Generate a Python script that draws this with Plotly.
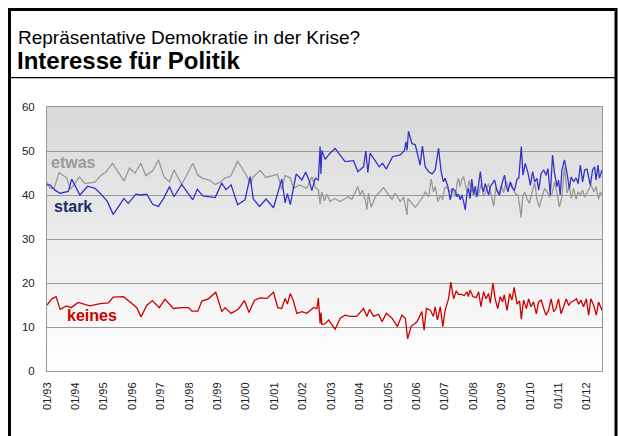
import plotly.graph_objects as go
import pandas as pd

# ---------------- data (decimal year, percent) ----------------
stark_t = [1993.00, 1993.11, 1993.28, 1993.46, 1993.75, 1993.87, 1994.16, 1994.43, 1994.69, 1994.87,
           1995.12, 1995.33, 1995.71, 1995.86, 1996.13, 1996.30, 1996.51, 1996.72, 1996.92, 1997.12,
           1997.31, 1997.47, 1997.74, 1997.92, 1998.13, 1998.29, 1998.48, 1998.92, 1999.15, 1999.30,
           1999.48, 1999.71, 1999.97, 2000.15, 2000.26, 2000.48, 2000.71, 2000.97, 2001.26, 2001.38,
           2001.46, 2001.56, 2001.77, 2001.97, 2002.10, 2002.22, 2002.32, 2002.44, 2002.55, 2002.61,
           2002.64, 2002.67, 2002.79, 2002.96, 2003.14, 2003.49, 2003.79, 2003.94, 2004.14, 2004.22,
           2004.29, 2004.37, 2004.55, 2004.69, 2004.81, 2004.94, 2005.16, 2005.43, 2005.58, 2005.63,
           2005.67, 2005.72, 2005.84, 2005.96, 2006.13, 2006.21, 2006.31, 2006.43, 2006.55, 2006.66,
           2006.78, 2006.87, 2006.95, 2007.01, 2007.11, 2007.19, 2007.27, 2007.37, 2007.43, 2007.48,
           2007.54, 2007.60, 2007.66, 2007.72, 2007.78, 2007.83, 2007.89, 2007.95, 2008.01, 2008.07,
           2008.13, 2008.19, 2008.25, 2008.31, 2008.36, 2008.42, 2008.48, 2008.54, 2008.60, 2008.66,
           2008.75, 2008.83, 2008.92, 2009.01, 2009.10, 2009.15, 2009.22, 2009.30, 2009.38, 2009.45,
           2009.54, 2009.60, 2009.65, 2009.69, 2009.75, 2009.83, 2009.93, 2010.01, 2010.09, 2010.16,
           2010.24, 2010.30, 2010.39, 2010.48, 2010.56, 2010.63, 2010.71, 2010.79, 2010.86, 2010.95,
           2011.00, 2011.06, 2011.12, 2011.21, 2011.30, 2011.38, 2011.45, 2011.53, 2011.62, 2011.69,
           2011.77, 2011.85, 2011.92, 2012.00, 2012.06, 2012.12, 2012.20, 2012.27, 2012.32, 2012.39,
           2012.44, 2012.53]
stark_v = [42.3, 42.3, 41.1, 40.4, 40.8, 43.6, 40.0, 42.0, 41.5, 40.4,
           38.6, 35.6, 39.2, 38.1, 40.2, 40.0, 40.2, 37.9, 37.4, 39.4,
           41.9, 39.6, 42.4, 40.8, 38.9, 41.3, 39.8, 39.4, 42.7, 41.2,
           42.3, 37.8, 38.9, 44.2, 39.1, 37.4, 39.1, 37.1, 43.6, 38.2,
           40.3, 37.8, 44.8, 43.4, 45.2, 43.4, 41.0, 43.8, 43.4, 51.0,
           44.8, 50.1, 48.1, 49.5, 50.6, 47.6, 47.8, 45.3, 46.4, 50.0,
           45.1, 49.5, 47.6, 46.4, 47.2, 45.9, 48.7, 49.1, 50.1, 52.1,
           50.2, 54.5, 51.7, 51.4, 46.8, 51.1, 46.4, 45.3, 44.8, 45.7,
           50.6, 45.3, 43.0, 43.8, 41.9, 38.9, 41.5, 40.9, 39.6, 40.2,
           38.9, 40.0, 38.5, 36.6, 40.4, 41.5, 39.2, 43.6, 40.0, 42.0,
           39.6, 42.6, 45.3, 41.9, 40.7, 42.6, 41.1, 40.0, 41.9, 42.6,
           43.4, 41.1, 40.0, 42.6, 44.5, 42.2, 40.7, 43.0, 41.5, 41.1,
           43.6, 43.8, 49.1, 51.0, 44.5, 47.2, 44.9, 42.2, 45.3, 43.0,
           43.8, 41.1, 44.9, 45.7, 44.5, 46.0, 40.0, 49.1, 44.9, 41.9,
           43.4, 40.0, 45.7, 48.0, 44.9, 41.5, 44.1, 43.0, 43.9, 42.6,
           46.8, 43.0, 45.7, 45.9, 44.1, 42.2, 45.7, 46.4, 43.4, 46.8,
           43.8, 45.7]

etwas_t = [1993.00, 1993.11, 1993.25, 1993.43, 1993.69, 1993.83, 1994.14, 1994.34, 1994.69, 1994.89,
           1995.08, 1995.31, 1995.71, 1995.90, 1996.10, 1996.30, 1996.48, 1996.72, 1996.92, 1997.12,
           1997.31, 1997.47, 1997.74, 1997.95, 1998.13, 1998.31, 1998.48, 1998.71, 1998.92, 1999.12,
           1999.27, 1999.47, 1999.71, 1999.97, 2000.09, 2000.18, 2000.24, 2000.50, 2000.71, 2001.11,
           2001.26, 2001.38, 2001.56, 2001.67, 2001.88, 2002.14, 2002.32, 2002.44, 2002.55, 2002.61,
           2002.67, 2002.76, 2002.85, 2002.96, 2003.12, 2003.32, 2003.61, 2003.73, 2003.94, 2004.02,
           2004.10, 2004.20, 2004.26, 2004.31, 2004.41, 2004.55, 2004.84, 2005.14, 2005.25, 2005.43,
           2005.55, 2005.63, 2005.67, 2005.70, 2005.96, 2006.19, 2006.31, 2006.43, 2006.52, 2006.60,
           2006.66, 2006.76, 2006.84, 2006.92, 2006.99, 2007.07, 2007.15, 2007.25, 2007.37, 2007.43,
           2007.48, 2007.54, 2007.60, 2007.66, 2007.72, 2007.78, 2007.86, 2007.93, 2008.01, 2008.10,
           2008.19, 2008.28, 2008.36, 2008.45, 2008.54, 2008.63, 2008.72, 2008.80, 2008.89, 2008.99,
           2009.07, 2009.15, 2009.24, 2009.34, 2009.42, 2009.50, 2009.57, 2009.63, 2009.68, 2009.74,
           2009.81, 2009.89, 2009.97, 2010.07, 2010.16, 2010.24, 2010.32, 2010.42, 2010.51, 2010.60,
           2010.68, 2010.77, 2010.86, 2010.95, 2011.03, 2011.12, 2011.21, 2011.30, 2011.38, 2011.45,
           2011.53, 2011.62, 2011.69, 2011.77, 2011.85, 2011.92, 2012.00, 2012.06, 2012.15, 2012.24,
           2012.32, 2012.41, 2012.47, 2012.53]
etwas_v = [42.9, 41.5, 41.5, 45.1, 43.9, 41.3, 44.1, 42.6, 42.9, 44.4,
           45.3, 47.2, 43.2, 46.1, 45.0, 47.2, 44.4, 45.5, 48.0, 44.1,
           43.0, 45.7, 42.4, 45.0, 47.2, 44.5, 43.8, 43.4, 42.4, 43.0,
           43.9, 44.3, 47.7, 45.0, 43.6, 42.4, 44.0, 45.6, 44.0, 44.7,
           41.3, 44.4, 43.9, 41.5, 42.3, 41.5, 44.1, 41.8, 41.1, 38.0,
           40.7, 38.7, 40.2, 38.5, 39.2, 38.5, 39.6, 39.0, 41.9, 40.0,
           41.1, 38.9, 36.7, 40.4, 37.2, 39.5, 41.7, 39.0, 40.4, 38.5,
           39.5, 37.2, 35.5, 39.2, 37.2, 39.2, 40.7, 39.6, 43.6, 40.7,
           41.9, 38.5, 40.0, 38.9, 41.5, 41.9, 40.7, 41.3, 39.6, 42.6,
           43.8, 41.9, 43.6, 44.2, 42.2, 40.7, 43.3, 40.7, 41.5, 39.5,
           40.2, 42.6, 39.7, 40.9, 42.6, 40.0, 37.5, 41.9, 40.0, 42.2,
           40.5, 43.2, 41.5, 42.6, 41.1, 40.2, 40.0, 37.7, 34.9, 39.6,
           40.7, 39.2, 38.1, 40.7, 42.8, 39.2, 37.2, 39.5, 41.5, 40.7,
           39.6, 40.2, 43.0, 40.4, 37.3, 39.6, 46.4, 40.4, 42.0, 39.2,
           41.5, 39.0, 40.7, 40.0, 41.1, 39.5, 40.4, 41.3, 42.3, 40.7,
           41.9, 39.0, 40.7, 40.0]

keines_t = [1993.00, 1993.17, 1993.32, 1993.46, 1993.69, 1993.85, 1994.10, 1994.28, 1994.51, 1994.87,
            1995.16, 1995.33, 1995.69, 1995.98, 1996.16, 1996.31, 1996.51, 1996.71, 1996.95, 1997.15,
            1997.45, 1997.74, 1997.98, 1998.10, 1998.31, 1998.45, 1998.68, 1998.94, 1999.15, 1999.27,
            1999.48, 1999.74, 1999.95, 2000.11, 2000.30, 2000.50, 2000.74, 2000.97, 2001.12, 2001.26,
            2001.38, 2001.46, 2001.56, 2001.67, 2001.79, 2001.97, 2002.14, 2002.38, 2002.50, 2002.55,
            2002.61, 2002.64, 2002.67, 2002.78, 2002.91, 2003.14, 2003.32, 2003.49, 2003.67, 2003.90,
            2004.05, 2004.14, 2004.26, 2004.35, 2004.49, 2004.67, 2004.79, 2004.94, 2005.14, 2005.33,
            2005.49, 2005.61, 2005.69, 2005.81, 2006.02, 2006.19, 2006.27, 2006.35, 2006.49, 2006.60,
            2006.66, 2006.74, 2006.84, 2006.93, 2007.01, 2007.13, 2007.21, 2007.31, 2007.40, 2007.48,
            2007.60, 2007.68, 2007.78, 2007.83, 2007.89, 2007.99, 2008.11, 2008.19, 2008.27, 2008.36,
            2008.45, 2008.54, 2008.60, 2008.69, 2008.77, 2008.86, 2008.95, 2009.03, 2009.09, 2009.19,
            2009.28, 2009.36, 2009.44, 2009.54, 2009.63, 2009.69, 2009.77, 2009.87, 2009.95, 2010.03,
            2010.12, 2010.22, 2010.30, 2010.39, 2010.48, 2010.56, 2010.65, 2010.74, 2010.83, 2010.91,
            2011.00, 2011.09, 2011.18, 2011.27, 2011.36, 2011.44, 2011.53, 2011.63, 2011.71, 2011.79,
            2011.88, 2011.98, 2012.06, 2012.14, 2012.24, 2012.33, 2012.41, 2012.53]
keines_v = [15.0, 16.4, 16.9, 14.0, 14.8, 14.4, 15.6, 15.2, 14.8, 15.3,
            15.5, 16.8, 16.9, 15.4, 14.4, 12.3, 14.9, 16.0, 14.4, 16.3,
            14.2, 14.4, 14.4, 13.6, 13.6, 15.9, 16.4, 17.9, 13.5, 14.4,
            13.1, 14.1, 16.0, 13.3, 16.1, 16.6, 16.5, 17.9, 14.4, 14.2,
            16.5, 15.2, 17.6, 16.0, 13.1, 13.5, 13.1, 14.4, 14.2, 16.6,
            10.8, 13.3, 10.6, 10.7, 11.6, 9.5, 12.0, 12.7, 12.4, 12.4,
            13.5, 14.2, 12.4, 14.0, 12.4, 12.9, 11.2, 13.1, 12.0, 10.1,
            12.7, 12.0, 7.3, 10.1, 11.2, 13.5, 9.3, 14.2, 13.8, 12.4,
            14.6, 11.6, 14.6, 10.1, 13.8, 16.4, 20.2, 16.4, 18.2, 17.4,
            17.4, 17.1, 18.0, 16.9, 18.4, 16.9, 16.7, 18.0, 14.6, 18.0,
            16.4, 17.6, 15.4, 20.0, 16.4, 14.2, 16.9, 15.7, 17.3, 13.8,
            17.6, 16.1, 19.0, 15.2, 15.9, 11.8, 16.1, 14.2, 16.4, 14.6,
            15.7, 13.0, 15.7, 16.1, 14.2, 12.7, 13.8, 16.4, 13.5, 14.2,
            16.4, 13.0, 14.6, 16.4, 14.9, 15.7, 15.9, 16.4, 15.2, 16.1,
            14.6, 16.4, 12.7, 16.4, 14.9, 12.7, 15.7, 13.8]

y_ticks = [0, 10, 20, 30, 40, 50, 60]
title_line1 = "Repräsentative Demokratie in der Krise?"
title_line2 = "Interesse für Politik"

# ---------------- helpers ----------------
def to_date(t):
    y = int(t)
    start = pd.Timestamp(year=y, month=1, day=1)
    days = (pd.Timestamp(year=y + 1, month=1, day=1) - start).days
    return start + pd.Timedelta(days=(t - y) * days)

def dates(ts):
    return [to_date(t) for t in ts]

# page body margin is removed (post_script), so figure pixel = screen pixel
W, H = 618, 436
L, T = 47, 107
PW, PH = 555, 264
R, B = W - L - PW, H - T - PH

def px(x):  # screen x -> paper x
    return (x - L) / PW

def py(y):  # screen y -> paper y
    return (T + PH - y) / PH

FONT = "Arial, 'Liberation Sans', Helvetica, sans-serif"
BLUE = "#3333cc"
GRAY = "#999999"
RED = "#cc0000"
GRID = "#999999"

fig = go.Figure()
fig.add_trace(go.Scatter(x=dates(etwas_t), y=etwas_v, mode="lines", name="etwas",
                         line=dict(color=GRAY, width=1.3)))
fig.add_trace(go.Scatter(x=dates(stark_t), y=stark_v, mode="lines", name="stark",
                         line=dict(color=BLUE, width=1.3)))
fig.add_trace(go.Scatter(x=dates(keines_t), y=keines_v, mode="lines", name="keines",
                         line=dict(color=RED, width=1.3)))

shapes = []
# vertical gradient background of the plot area
n = 88
top_rgb = (216, 216, 216)
for i in range(n):
    f = (i + 0.5) / n
    c = tuple(round(255 + (tc - 255) * f) for tc in top_rgb)
    shapes.append(dict(type="rect", xref="paper", yref="paper", x0=0, x1=1,
                       y0=i / n, y1=(i + 1) / n + 0.002, layer="below",
                       line=dict(width=0), fillcolor="rgb(%d,%d,%d)" % c))
# outer frame and title separator
shapes.append(dict(type="rect", xref="paper", yref="paper",
                   x0=px(9.5), x1=px(616), y0=py(445), y1=py(9.5),
                   line=dict(color="black", width=3), layer="above"))
shapes.append(dict(type="line", xref="paper", yref="paper",
                   x0=px(9.5), x1=px(616), y0=py(77.7), y1=py(77.7),
                   line=dict(color="black", width=1.2), layer="above"))

annotations = [
    dict(text=title_line1, xref="paper", yref="paper", x=px(16), y=py(37.5),
         xanchor="left", yanchor="middle", showarrow=False,
         font=dict(family=FONT, size=19, color="black")),
    dict(text="<b>" + title_line2 + "</b>", xref="paper", yref="paper", x=px(15), y=py(60),
         xanchor="left", yanchor="middle", showarrow=False,
         font=dict(family=FONT, size=24, color="black")),
    dict(text="<b>etwas</b>", xref="x", yref="y", x=to_date(1993.07), y=47.3,
         xanchor="left", yanchor="middle", showarrow=False,
         font=dict(family=FONT, size=16, color=GRAY)),
    dict(text="<b>stark</b>", xref="x", yref="y", x=to_date(1993.18), y=37.3,
         xanchor="left", yanchor="middle", showarrow=False,
         font=dict(family=FONT, size=16, color="#1a2e6e")),
    dict(text="<b>keines</b>", xref="x", yref="y", x=to_date(1993.65), y=12.7,
         xanchor="left", yanchor="middle", showarrow=False,
         font=dict(family=FONT, size=16, color=RED)),
]

fig.update_layout(
    width=W, height=H,
    margin=dict(l=L, r=R, t=T, b=B, pad=0, autoexpand=False),
    paper_bgcolor="white", plot_bgcolor="rgba(0,0,0,0)",
    showlegend=False,
    font=dict(family=FONT, color="#222222"),
    shapes=shapes, annotations=annotations,
)
fig.update_xaxes(
    type="date", range=[to_date(1993.0), to_date(2012.53)],
    tick0="1993-01-01", dtick="M12", tickformat="%m/%y", tickangle=-90,
    ticks="outside", ticklen=6, tickcolor="rgba(0,0,0,0)",
    tickfont=dict(size=11, family=FONT, color="#222222"),
    showgrid=False, showline=True, linecolor=GRID, linewidth=1, mirror=True,
    zeroline=False, automargin=False,
)
fig.update_yaxes(
    range=[0, 60], tickvals=y_ticks,
    ticks="outside", ticklen=9, tickcolor="rgba(0,0,0,0)",
    tickfont=dict(size=11.5, family=FONT, color="#222222"),
    showgrid=True, gridcolor=GRID, gridwidth=1,
    showline=True, linecolor=GRID, linewidth=1, mirror=True,
    zeroline=False, automargin=False,
)

fig.write_html(
    "out.html",
    config={"displayModeBar": False},
    post_script="document.body.style.margin='0px';document.body.style.overflow='hidden';",
)
